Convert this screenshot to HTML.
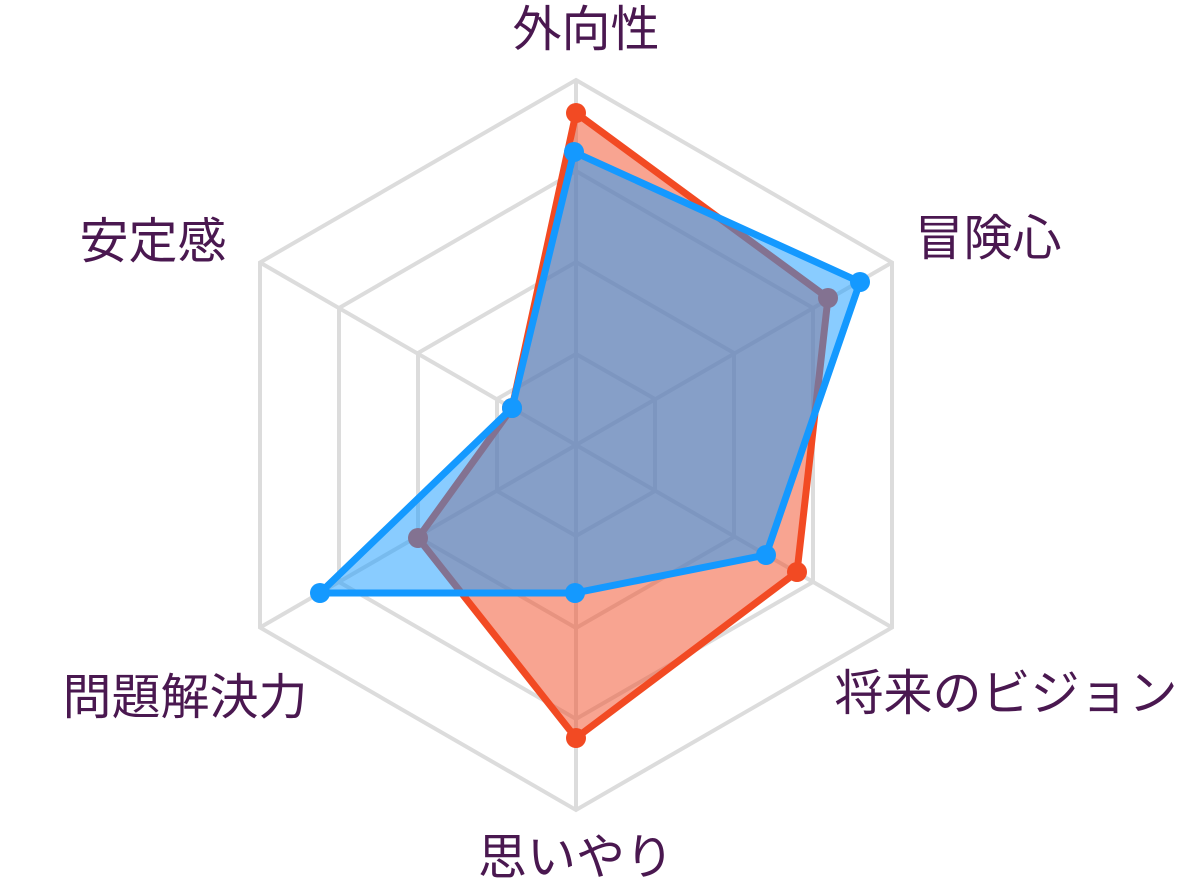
<!DOCTYPE html>
<html><head><meta charset="utf-8"><style>
html,body{margin:0;padding:0;background:#fff;}
svg{display:block}
text{font-family:"Liberation Sans","Noto Sans CJK JP",sans-serif;font-size:49px;fill:#4a1850;}
</style></head><body>
<svg width="1192" height="891" viewBox="0 0 1192 891" xmlns="http://www.w3.org/2000/svg">
<g fill="none" stroke="#dcdcdc" stroke-width="4">
<polygon points="576,80 892,262.5 892,627.5 576,810 260,627.5 260,262.5"/>
<polygon points="576,171 813,308 813,582 576,719 339,582 339,308"/>
<polygon points="576,262 734,353 734,537 576,628 418,537 418,353"/>
<polygon points="576,354 655,399 655,491 576,536 497,491 497,399"/>
<line x1="576" y1="445" x2="576" y2="80"/>
<line x1="576" y1="445" x2="892" y2="262.5"/>
<line x1="576" y1="445" x2="892" y2="627.5"/>
<line x1="576" y1="445" x2="576" y2="810"/>
<line x1="576" y1="445" x2="260" y2="627.5"/>
<line x1="576" y1="445" x2="260" y2="262.5"/>
</g>
<g>
<polygon points="576,113 828,298 797,572 576,738 418,538 512,408" fill="#f24a23" fill-opacity="0.5" stroke="#f24a23" stroke-width="7" stroke-linejoin="round"/>
<g fill="#f24a23"><circle cx="576" cy="113" r="10"/><circle cx="828" cy="298" r="10"/><circle cx="797" cy="572" r="10"/><circle cx="576" cy="738" r="10"/><circle cx="418" cy="538" r="10"/><circle cx="512" cy="408" r="10"/></g>
<polygon points="574,152 860,282 766,555 575,593 320,593 512,408" fill="#1499ff" fill-opacity="0.5" stroke="none"/>
<polygon points="574,152 860,282 766,555 575,593 320,593 512,408" fill="none" stroke="#1499ff" stroke-width="7" stroke-linejoin="round"/>
<g fill="#1499ff"><circle cx="574" cy="152" r="10"/><circle cx="860" cy="282" r="10"/><circle cx="766" cy="555" r="10"/><circle cx="575" cy="593" r="10"/><circle cx="320" cy="593" r="10"/><circle cx="512" cy="408" r="10"/></g>
</g>
<text x="586" y="46" text-anchor="middle">外向性</text>
<text x="988" y="255" text-anchor="middle">冒険心</text>
<text x="153" y="258" text-anchor="middle">安定感</text>
<text x="1006" y="710" text-anchor="middle">将来のビジョン</text>
<text x="576" y="874" text-anchor="middle">思いやり</text>
<text x="185" y="714" text-anchor="middle">問題解決力</text>
</svg>
</body></html>
